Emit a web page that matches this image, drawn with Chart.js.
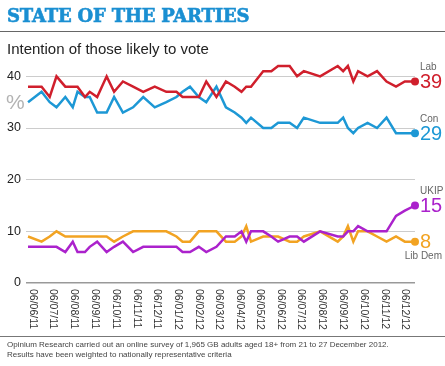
<!DOCTYPE html>
<html>
<head>
<meta charset="utf-8">
<script src="https://cdn.jsdelivr.net/npm/chart.js@4.4.1/dist/chart.umd.min.js"></script>
<style>
  html, body { margin: 0; padding: 0; background: #fff; }
  body { width: 445px; height: 366px; position: relative; overflow: hidden;
         font-family: "Liberation Sans", Arial, sans-serif; }
  #chart { position: absolute; left: 0; top: 0; }
  #title { position: absolute; left: 7px; top: 4px; margin: 0;
           font-family: "DejaVu Serif", serif; font-weight: bold; font-size: 18px;
           letter-spacing: -0.2px; line-height: 24px; color: #1a8fd2; white-space: nowrap;
           -webkit-text-stroke: 0.6px #1a8fd2; }
  .rule { position: absolute; left: 0; width: 445px; height: 1px; background: #666; }
  #sub { position: absolute; left: 7px; top: 40px; font-size: 15px; line-height: 17px; color: #222; }
  #note { position: absolute; left: 7px; top: 340px; font-size: 8px; line-height: 10px; color: #444;
          white-space: nowrap; }
</style>
</head>
<body>
<canvas id="chart" width="445" height="366"></canvas>
<h1 id="title">STATE OF THE PARTIES</h1>
<div class="rule" style="top:31px"></div>
<div id="sub">Intention of those likely to vote</div>
<div class="rule" style="top:336px;background:#777"></div>
<div id="note">Opinium Research carried out an online survey of 1,965 GB adults aged 18+ from 21 to 27 December 2012.<br>Results have been weighted to nationally representative criteria</div>
<script>
const tickLabels = ['06/06/11', '06/07/11', '06/08/11', '06/09/11', '06/10/11', '06/11/11', '06/12/11',
  '06/01/12', '06/02/12', '06/03/12', '06/04/12', '06/05/12', '06/06/12', '06/07/12', '06/08/12',
  '06/09/12', '06/10/12', '06/11/12', '06/12/12'];
const yTicks = [0, 10, 20, 30, 40];

const pollDates = ['2011-05-30', '2011-06-19', '2011-07-01', '2011-07-11', '2011-07-24', '2011-08-04',
  '2011-08-11', '2011-08-22', '2011-08-29', '2011-09-09', '2011-09-23', '2011-10-04', '2011-10-17',
  '2011-11-01', '2011-11-16', '2011-12-03', '2011-12-20', '2012-01-04', '2012-01-13', '2012-01-24',
  '2012-02-06', '2012-02-17', '2012-03-03', '2012-03-17', '2012-03-30', '2012-04-09', '2012-04-16',
  '2012-04-23', '2012-05-11', '2012-05-23', '2012-06-02', '2012-06-19', '2012-06-30', '2012-07-10',
  '2012-08-03', '2012-08-29', '2012-09-06', '2012-09-13', '2012-09-21', '2012-09-28', '2012-10-12',
  '2012-10-26', '2012-11-09', '2012-11-23', '2012-12-06', '2012-12-21'];

const labVotes = [38, 38, 36, 40, 38, 38, 38, 36, 37, 36, 40, 37, 39, 38, 37, 38, 37, 37, 36, 36,
  36, 39, 36, 39, 38, 37, 38, 38, 41, 41, 42, 42, 40, 41, 40, 42, 41, 42, 39, 41, 40, 41, 39, 38, 39, 39];
const conVotes = [35, 37, 35, 34, 36, 34, 37, 36, 36, 33, 33, 36, 33, 34, 36, 34, 35, 36, 37, 38,
  36, 35, 38, 34, 33, 32, 31, 32, 30, 30, 31, 31, 30, 32, 31, 31, 32, 30, 29, 30, 31, 30, 32, 29, 29, 29];
const ukipVotes = [7, 7, 7, 7, 6, 8, 6, 6, 7, 8, 6, 7, 8, 6, 7, 7, 7, 7, 6, 6,
  7, 6, 7, 9, 9, 10, 8, 10, 10, 9, 8, 9, 9, 8, 10, 9, 9, 10, 10, 11, 10, 10, 10, 13, 14, 15];
const libDemVotes = [9, 8, 9, 10, 9, 9, 9, 9, 9, 9, 9, 8, 9, 10, 10, 10, 10, 9, 8, 8,
  10, 10, 10, 8, 8, 9, 11, 8, 9, 9, 9, 8, 8, 9, 10, 8, 9, 11, 8, 10, 10, 9, 8, 9, 8, 8];

const DAY = 86400000;
const origin = Date.UTC(2011, 5, 6);
const pollDays = pollDates.map(s => {
  const [y, m, d] = s.split('-').map(Number);
  return (Date.UTC(y, m - 1, d) - origin) / DAY;
});
const tickDays = tickLabels.map(s => {
  const [d, m, y] = s.split('/').map(Number);
  return (Date.UTC(2000 + y, m - 1, d) - origin) / DAY;
});

const parties = [
  { name: 'Lab', votes: labVotes, color: '#d01f2c', nameBelow: false },
  { name: 'UKIP', votes: ukipVotes, color: '#ab22cc', nameBelow: false },
  { name: 'Con', votes: conVotes, color: '#1d98d5', nameBelow: false },
  { name: 'Lib Dem', votes: libDemVotes, color: '#f2a322', nameBelow: true },
];

const last = pollDays.length - 1;

new Chart(document.getElementById('chart'), {
  type: 'line',
  data: {
    datasets: parties.map(p => ({
      label: p.name,
      data: p.votes.map((v, i) => ({ x: pollDays[i], y: v })),
      borderColor: p.color,
      backgroundColor: p.color,
      borderWidth: 2.5,
      tension: 0,
      clip: false,
      pointRadius: ctx => ctx.dataIndex === last ? 4 : 0,
      pointBorderWidth: 0,
    })),
  },
  options: {
    responsive: false,
    animation: false,
    events: [],
    layout: { padding: { top: 66, right: 30, bottom: 0, left: 0 } },
    plugins: { legend: { display: false }, tooltip: { enabled: false } },
    scales: {
      x: {
        type: 'linear',
        min: -10,
        max: 564,
        afterBuildTicks: scale => { scale.ticks = tickDays.map(v => ({ value: v })); },
        afterFit: scale => { scale.height = 83; },
        ticks: { display: false },
        grid: { display: false },
        border: { display: false },
      },
      y: {
        min: 0,
        max: 42,
        afterBuildTicks: scale => { scale.ticks = yTicks.map(v => ({ value: v })); },
        afterFit: scale => { scale.width = 26; },
        ticks: {
          padding: 5,
          color: '#222',
          font: { family: 'Liberation Sans', size: 12.5 },
        },
        grid: {
          drawTicks: false,
          color: ctx => ctx.tick && ctx.tick.value === 0 ? '#999' : '#ccc',
          lineWidth: ctx => ctx.tick && ctx.tick.value === 0 ? 1.5 : 1,
        },
        border: { display: false },
      },
    },
  },
  plugins: [{
    id: 'extras',
    afterDraw(chart) {
      const { ctx, scales, chartArea } = chart;
      ctx.save();

      // x tick labels, turned to read top to bottom
      ctx.fillStyle = '#333';
      ctx.font = '10.5px "Liberation Sans"';
      ctx.textAlign = 'left';
      ctx.textBaseline = 'middle';
      tickDays.forEach((d, i) => {
        const x = scales.x.getPixelForValue(d);
        ctx.save();
        ctx.translate(x, chartArea.bottom + 6);
        ctx.rotate(Math.PI / 2);
        ctx.fillText(tickLabels[i], 0, 0);
        ctx.restore();
      });

      // % sign
      ctx.fillStyle = '#b3b3b3';
      ctx.font = '21px "Liberation Sans"';
      ctx.fillText('%', 6, scales.y.getPixelForValue(35) + 1);

      // end labels
      parties.forEach((p, i) => {
        const pt = chart.getDatasetMeta(i).data[last];
        ctx.fillStyle = p.color;
        ctx.font = '20px "Liberation Sans"';
        ctx.textAlign = 'left';
        ctx.fillText(String(p.votes[last]), pt.x + 5, pt.y + 1);
        ctx.fillStyle = '#666';
        ctx.font = '10px "Liberation Sans"';
        if (p.nameBelow) {
          ctx.textAlign = 'right';
          ctx.fillText(p.name, 442, pt.y + 15);
        } else {
          ctx.fillText(p.name, pt.x + 5, pt.y - 14);
        }
      });
      ctx.restore();
    },
  }],
});
</script>
</body>
</html>
